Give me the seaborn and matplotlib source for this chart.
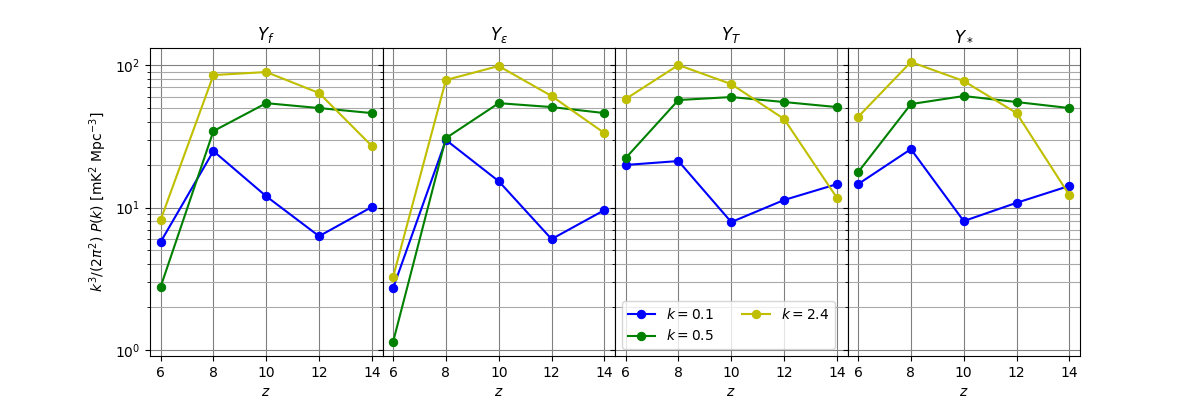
import matplotlib
matplotlib.use('Agg')
import matplotlib.pyplot as plt
import seaborn as sns
import pandas as pd

z = [6, 8, 10, 12, 14]
k_labels = ['$k=0.1$', '$k=0.5$', '$k=2.4$']
colors = ['b', 'g', 'y']
titles = ['$Y_f$', r'$Y_\varepsilon$', '$Y_T$', '$Y_*$']

# power per panel, rows = k values
Y_f = [[5.73, 24.9, 12.0, 6.3, 10.1],
       [2.77, 34.4, 54.0, 49.9, 46.0],
       [8.17, 85.0, 89.3, 63.6, 27.0]]
Y_eps = [[2.72, 29.8, 15.3, 6.01, 9.6],
         [1.14, 30.7, 54.0, 50.7, 46.0],
         [3.25, 78.5, 98.4, 60.6, 33.3]]
Y_T = [[19.9, 21.2, 7.91, 11.3, 14.6],
       [22.2, 56.8, 59.6, 55.0, 50.7],
       [57.7, 100.0, 73.5, 41.8, 11.7]]
Y_star = [[14.6, 25.7, 8.04, 10.8, 14.2],
          [17.7, 53.2, 60.6, 55.0, 49.9],
          [43.2, 105.0, 77.2, 46.0, 12.2]]
panels = [Y_f, Y_eps, Y_T, Y_star]

fig, axes = plt.subplots(1, 4, figsize=(12, 4), sharey=True)
fig.subplots_adjust(wspace=0)

for ax, title, data in zip(axes, titles, panels):
    for vals, lab, c in zip(data, k_labels, colors):
        df = pd.DataFrame({'z': z, 'P': vals})
        sns.lineplot(data=df, x='z', y='P', ax=ax, color=c, marker='o',
                     markeredgecolor=c, markersize=6, label=lab, legend=False)
    ax.set_yscale('log')
    ax.set_title(title)
    ax.set_xlabel('$z$')
    ax.set_ylabel('')
    ax.set_xticks(z)
    ax.grid(which='major', color='gray')
    ax.grid(which='minor', color='darkgray')

axes[0].set_ylabel(r'$k^3/(2\pi^2)\ P(k)$ [mK$^2$ Mpc$^{-3}$]')
axes[2].legend(loc='lower left', ncol=2)

fig.savefig('out.png', dpi=100)
